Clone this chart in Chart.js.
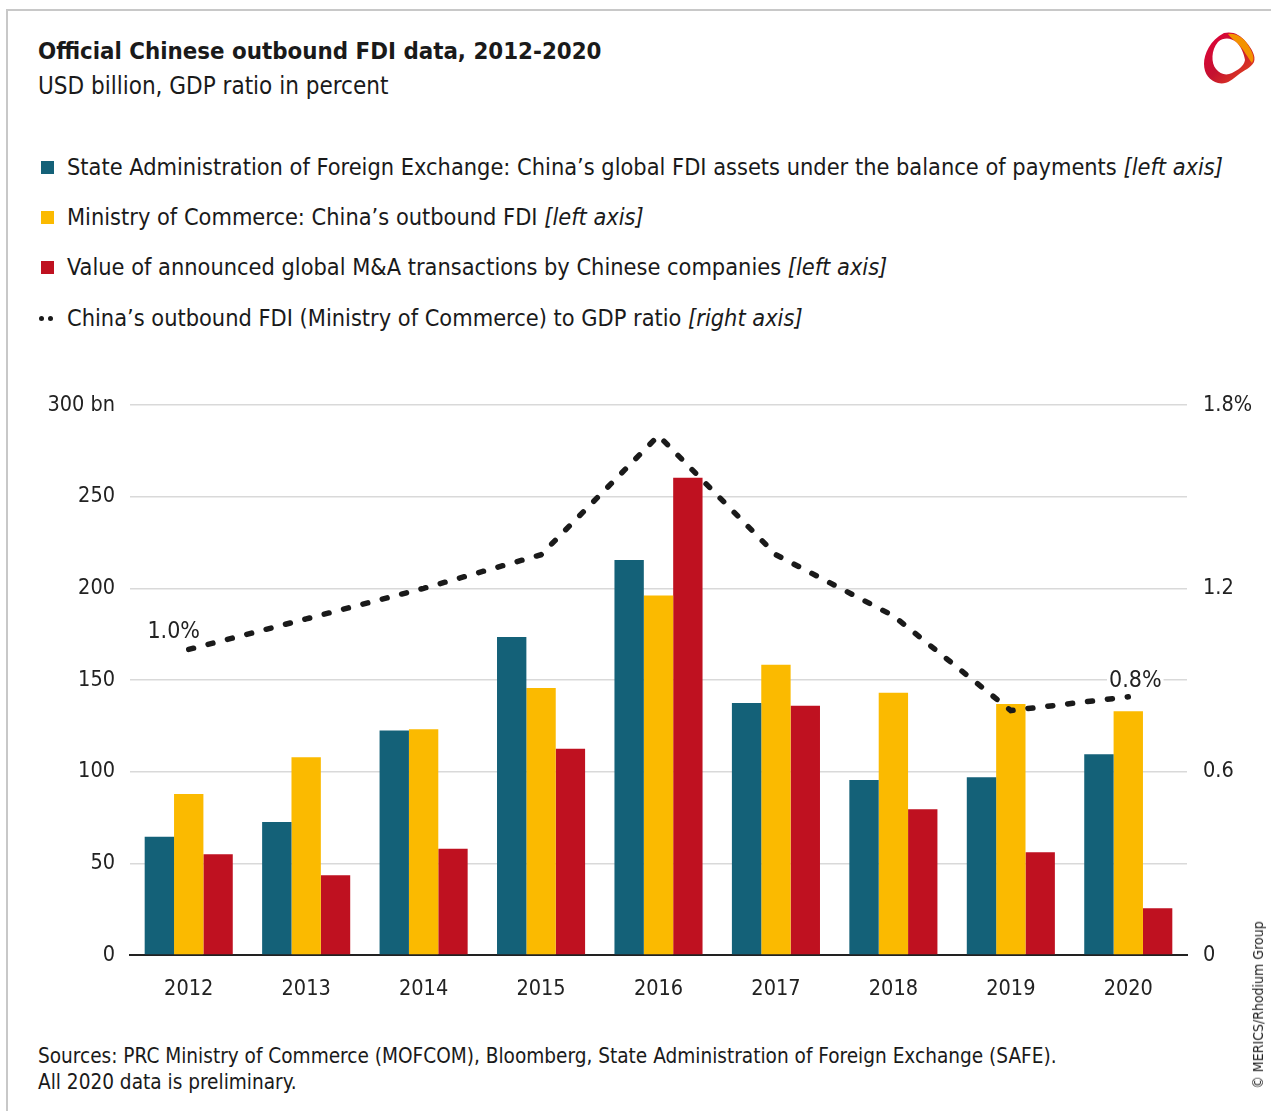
<!DOCTYPE html>
<html>
<head>
<meta charset="utf-8">
<script src="https://cdn.jsdelivr.net/npm/chart.js@4.4.1/dist/chart.umd.min.js"></script>
<style>
  html, body { margin:0; padding:0; background:#fff; }
  body { width:1271px; height:1111px; position:relative; overflow:hidden;
         font-family:"DejaVu Sans Condensed","DejaVu Sans",sans-serif; color:#1a1a1a; }
  .frame-top { position:absolute; left:7px; top:9px; width:1264px; height:2px; background:#c8c8c8; }
  .frame-left { position:absolute; left:6px; top:9px; width:2px; height:1102px; background:#c8c8c8; }
  .t { position:absolute; white-space:nowrap; }
  #title { left:38px; top:36px; font-size:23.8px; font-weight:bold; line-height:30px; }
  #subtitle { left:38px; top:72px; font-size:24px; line-height:28px; }
  .leg { position:absolute; left:41px; white-space:nowrap; font-size:23.35px; line-height:28px; }
  .leg .sw { position:absolute; left:0; top:8px; width:13px; height:13px; }
  .leg .lab { position:absolute; left:26px; top:0; }
  .leg i { font-style:italic; }
  .dot { position:absolute; width:5px; height:5px; border-radius:50%; background:#1a1a1a; top:12px; }
  #chartWrap { position:absolute; left:0; top:372px; width:1271px; height:650px; }
  #foot1 { left:38px; top:1043px; font-size:20.6px; line-height:26px; }
  #foot2 { left:38px; top:1069px; font-size:20.6px; line-height:26px; }
  #copy { position:absolute; left:1258px; top:1005px; font-size:14px; line-height:16px; white-space:nowrap;
          transform:translate(-50%,-50%) rotate(-90deg); color:#222; }
  #logo { position:absolute; left:1198px; top:28px; }
</style>
</head>
<body>
<div class="frame-top"></div>
<div class="frame-left"></div>

<div id="title" class="t">Official Chinese outbound FDI data, 2012-2020</div>
<div id="subtitle" class="t">USD billion, GDP ratio in percent</div>

<div class="leg" style="top:153px;"><div class="sw" style="background:#146178"></div><div class="lab">State Administration of Foreign Exchange: China’s global FDI assets under the balance of payments <i>[left axis]</i></div></div>
<div class="leg" style="top:203px;"><div class="sw" style="background:#fbba00"></div><div class="lab">Ministry of Commerce: China’s outbound FDI <i>[left axis]</i></div></div>
<div class="leg" style="top:253px;"><div class="sw" style="background:#bf1120"></div><div class="lab">Value of announced global M&amp;A transactions by Chinese companies <i>[left axis]</i></div></div>
<div class="leg" style="top:304px;"><div class="dot" style="left:-2px"></div><div class="dot" style="left:7px"></div><div class="lab">China’s outbound FDI (Ministry of Commerce) to GDP ratio <i>[right axis]</i></div></div>

<svg id="logo" width="62" height="62" viewBox="0 0 62 62">
  <defs>
    <linearGradient id="g1" x1="0" y1="0" x2="1" y2="1">
      <stop offset="0" stop-color="#e4003a"/>
      <stop offset="0.5" stop-color="#c41230"/>
      <stop offset="1" stop-color="#e94e1b"/>
    </linearGradient>
  </defs>
  <path d="M26 5 C34 3 42 6 48 14 C54 21 58 28 56 34 C53 40 46 42 40 47 C34 52 28 57 20 55 C12 53 6 46 6 36 C6 26 12 12 26 5 Z" fill="url(#g1)"/>
  <path d="M30 6 C38 5 45 9 50 17 C55 25 57 30 54 35 C50 30 46 22 40 16 C36 12 32 9 30 6 Z" fill="#f39200"/>
  <path d="M20 14 C26 9 33 10 38 14 C43 18 46 26 47 32 C46 38 40 42 34 45 C28 48 22 46 18 41 C13 35 13 22 20 14 Z" fill="#ffffff"/>
</svg>

<div id="chartWrap"><canvas id="c" width="1271" height="650"></canvas></div>

<div id="foot1" class="t">Sources: PRC Ministry of Commerce (MOFCOM), Bloomberg, State Administration of Foreign Exchange (SAFE).</div>
<div id="foot2" class="t">All 2020 data is preliminary.</div>
<div id="copy">© MERICS/Rhodium Group</div>

<script>
// ---- Data ----
const years = ['2012','2013','2014','2015','2016','2017','2018','2019','2020'];
const safeFDI   = [64.5, 72.5, 122.5, 173.5, 215.5, 137.5, 95.5, 97.0, 109.5];
const mofcomFDI = [87.8, 107.8, 123.1, 145.7, 196.1, 158.3, 143.0, 136.9, 132.9];
const maValue   = [55.0, 43.5, 58.0, 112.5, 260.3, 136.0, 79.5, 56.0, 25.5];
const gdpRatio  = [1.00, 1.10, 1.20, 1.31, 1.70, 1.31, 1.11, 0.80, 0.845];
const ratioLabels = ['1.0%', '', '', '', '', '', '', '', '0.8%'];
const leftTicks = [0, 50, 100, 150, 200, 250, 300];
const rightTicks = [0, 0.6, 1.2, 1.8];

const FONT = '"DejaVu Sans Condensed","DejaVu Sans",sans-serif';

const labelPlugin = {
  id: 'ratioLabels',
  afterDatasetsDraw(chart) {
    const meta = chart.getDatasetMeta(3);
    const ctx = chart.ctx;
    const offs = { 0: [-15, -18], 8: [7, -17] };
    ctx.save();
    ctx.font = '23px ' + FONT;
    ctx.textAlign = 'center';
    ctx.textBaseline = 'middle';
    ratioLabels.forEach((t, i) => {
      if (!t) return;
      const p = meta.data[i];
      const o = offs[i] || [0, -18];
      const x = p.x + o[0], y = p.y + o[1];
      const w = ctx.measureText(t).width;
      ctx.fillStyle = '#ffffff';
      ctx.fillRect(x - w/2 - 2, y - 10, w + 4, 20);
      ctx.fillStyle = '#222222';
      ctx.fillText(t, x, y + 1);
    });
    ctx.restore();
  }
};

new Chart(document.getElementById('c'), {
  type: 'bar',
  data: {
    labels: years,
    datasets: [
      { label: 'SAFE', data: safeFDI, backgroundColor: '#146178', yAxisID: 'y', order: 1,
        categoryPercentage: 0.75, barPercentage: 1.0 },
      { label: 'MOFCOM', data: mofcomFDI, backgroundColor: '#fbba00', yAxisID: 'y', order: 1,
        categoryPercentage: 0.75, barPercentage: 1.0 },
      { label: 'M&A', data: maValue, backgroundColor: '#bf1120', yAxisID: 'y', order: 1,
        categoryPercentage: 0.75, barPercentage: 1.0 },
      { type: 'line', label: 'Ratio', data: gdpRatio, yAxisID: 'y2', order: 0,
        borderColor: '#1a1a1a', borderWidth: 5.5, borderDash: [5, 15], borderCapStyle: 'round',
        pointRadius: 0, tension: 0, fill: false }
    ]
  },
  options: {
    responsive: false,
    devicePixelRatio: 1,
    animation: false,
    events: [],
    layout: { padding: { top: 33, bottom: 0, left: 0, right: 0 } },
    plugins: { legend: { display: false }, tooltip: { enabled: false } },
    scales: {
      x: {
        grid: { display: false, drawTicks: false },
        border: { display: true, color: '#222222', width: 2 },
        ticks: { color: '#222222', font: { family: FONT, size: 21.5 }, padding: 22, maxRotation: 0 },
        afterFit(s) { s.height = 67; }
      },
      y: {
        position: 'left', min: 0, max: 300,
        afterBuildTicks(s) { s.ticks = leftTicks.map(v => ({ value: v })); },
        grid: { color: '#d9d9d9', lineWidth: 1.5, drawTicks: false },
        border: { display: false },
        ticks: { color: '#222222', font: { family: FONT, size: 21.5 }, padding: 15,
                 callback: v => v === 300 ? '300 bn' : String(v) },
        afterFit(s) { s.width = 130; }
      },
      y2: {
        position: 'right', min: 0, max: 1.8,
        afterBuildTicks(s) { s.ticks = rightTicks.map(v => ({ value: v })); },
        grid: { display: false, drawTicks: false },
        border: { display: false },
        ticks: { color: '#222222', font: { family: FONT, size: 21.5 }, padding: 16,
                 callback: v => Math.abs(v - 1.8) < 1e-6 ? '1.8%' : String(v) },
        afterFit(s) { s.width = 84; }
      }
    }
  },
  plugins: [labelPlugin]
});
</script>
</body>
</html>
